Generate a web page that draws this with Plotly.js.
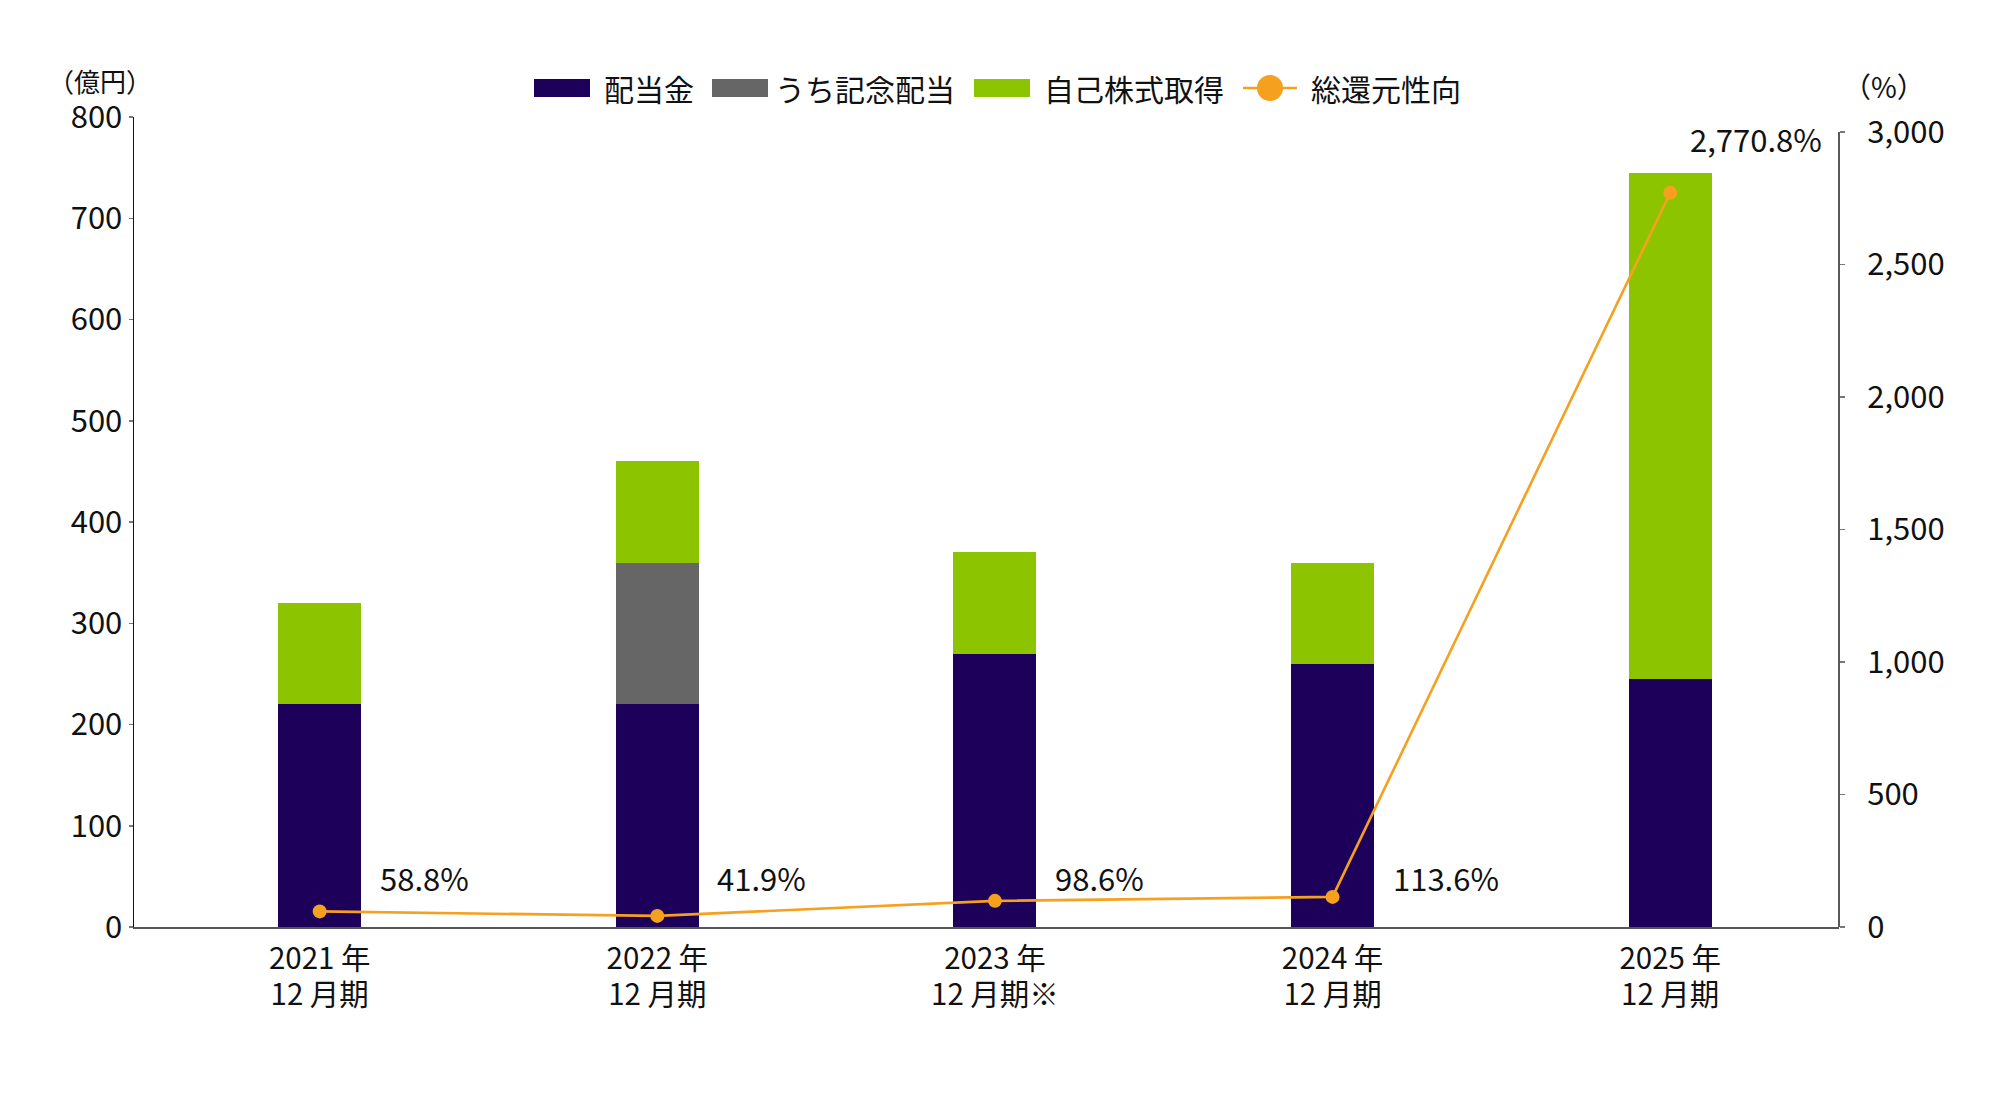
<!DOCTYPE html>
<html>
<head>
<meta charset="utf-8">
<script src="https://cdn.plot.ly/plotly-3.0.1.min.js"></script>
<style>
  html, body { margin: 0; padding: 0; background: #fff; }
  #chart { width: 2000px; height: 1100px; }
</style>
</head>
<body>
<div id="chart"></div>
<script>
// データ（億円 / %）
const periods = ['2021年12月期', '2022年12月期', '2023年12月期※', '2024年12月期', '2025年12月期'];
const periodLabels = ['2021 年<br>12 月期', '2022 年<br>12 月期', '2023 年<br>12 月期※', '2024 年<br>12 月期', '2025 年<br>12 月期'];
const dividend = [220, 220, 270, 260, 245];       // 配当金
const commemorative = [0, 140, 0, 0, 0];         // うち記念配当
const buyback = [100, 100, 100, 100, 500];       // 自己株式取得
const payoutRatio = [58.8, 41.9, 98.6, 113.6, 2770.8]; // 総還元性向

const seriesNames = ['配当金', 'うち記念配当', '自己株式取得', '総還元性向'];
const colors = {
    dividend: '#1c0059',
    commemorative: '#666666',
    buyback: '#8cc400',
    ratio: '#f6a020'
};

const FONT = '"Noto Sans CJK JP", "Noto Sans", sans-serif';

// プロット領域（ピクセル）
const W = 2000, H = 1100;
const margin = { l: 134, r: 161, t: 117, b: 173 };
const plotW = W - margin.l - margin.r;
const plotH = H - margin.t - margin.b;
const xp = px => (px - margin.l) / plotW;
const yp = py => (H - margin.b - py) / plotH;

const barBase = {
    type: 'bar',
    x: periods,
    width: 0.246,
    hoverinfo: 'skip',
    showlegend: false
};

const traces = [
    { ...barBase, name: seriesNames[0], y: dividend, marker: { color: colors.dividend } },
    { ...barBase, name: seriesNames[1], y: commemorative, marker: { color: colors.commemorative } },
    { ...barBase, name: seriesNames[2], y: buyback, marker: { color: colors.buyback } },
    {
        type: 'scatter',
        mode: 'lines+markers',
        name: seriesNames[3],
        x: periods,
        y: payoutRatio,
        yaxis: 'y2',
        line: { color: colors.ratio, width: 2.6 },
        marker: { color: colors.ratio, size: 14 },
        hoverinfo: 'skip',
        showlegend: false
    }
];

// 総還元性向のラベル
const ratioText = payoutRatio.map(v => v.toLocaleString('en-US', { minimumFractionDigits: 1 }) + '%');
const annotations = ratioText.map((t, i) => {
    const last = i === payoutRatio.length - 1;
    return {
        x: periods[i], xref: 'x',
        y: last ? 0.973 : 0.061, yref: 'paper',
        xanchor: 'left', yanchor: 'middle',
        xshift: last ? 18 : 58,
        text: t, showarrow: false,
        font: { family: FONT, size: 31, color: '#111' }
    };
});

// 単位
annotations.push({
    x: xp(100), y: yp(80), xref: 'paper', yref: 'paper',
    xanchor: 'center', yanchor: 'middle', showarrow: false,
    text: '（億円）', font: { family: FONT, size: 26, color: '#111' }
});
annotations.push({
    x: xp(1884), y: yp(86), xref: 'paper', yref: 'paper',
    xanchor: 'center', yanchor: 'middle', showarrow: false,
    text: '（%）', font: { family: FONT, size: 28, color: '#111' }
});

// 凡例（手描き）
const legendY = 88;
const swatchX = [534, 712, 974];
const swatchColors = [colors.dividend, colors.commemorative, colors.buyback];
const legendTextX = [602, 773, 1042, 1309];
const shapes = [];
swatchX.forEach((x0, i) => {
    shapes.push({
        type: 'rect', xref: 'paper', yref: 'paper',
        x0: xp(x0), x1: xp(x0 + 56), y0: yp(legendY + 9), y1: yp(legendY - 9),
        fillcolor: swatchColors[i], line: { width: 0 }
    });
});
shapes.push({
    type: 'line', xref: 'paper', yref: 'paper',
    x0: xp(1243), x1: xp(1297), y0: yp(legendY), y1: yp(legendY),
    line: { color: colors.ratio, width: 2.6 }
});
shapes.push({
    type: 'circle', xref: 'paper', yref: 'paper',
    x0: xp(1270 - 13), x1: xp(1270 + 13), y0: yp(legendY + 13), y1: yp(legendY - 13),
    fillcolor: colors.ratio, line: { width: 0 }
});
seriesNames.forEach((name, i) => {
    annotations.push({
        x: xp(legendTextX[i]), y: yp(legendY), xref: 'paper', yref: 'paper',
        xanchor: 'left', yanchor: 'middle', showarrow: false,
        text: name, font: { family: FONT, size: 30, color: '#111' }
    });
});

// 右軸の線（0〜3,000）
shapes.push({
    type: 'line', xref: 'paper', yref: 'y2',
    x0: 1, x1: 1, y0: 0, y1: 3000,
    line: { color: '#222', width: 1.5 }
});

const layout = {
    width: W,
    height: H,
    margin: margin,
    paper_bgcolor: '#fff',
    plot_bgcolor: '#fff',
    barmode: 'stack',
    showlegend: false,
    font: { family: FONT, color: '#111' },
    xaxis: {
        type: 'category',
        range: [-0.55, 4.5],
        tickmode: 'array',
        tickvals: periods,
        ticktext: periodLabels.map(t => t.split('<br>').map(s => '<span style="font-size:29.5px">' + s + '</span>').join('<br>')),
        tickfont: { family: FONT, size: 27.5, color: '#111' },
        ticks: '',
        ticklabelstandoff: 7,
        showline: true,
        linecolor: '#555',
        linewidth: 2,
        showgrid: false,
        zeroline: false,
        fixedrange: true
    },
    yaxis: {
        range: [0, 800],
        tickmode: 'linear',
        tick0: 0,
        dtick: 100,
        tickfont: { family: FONT, size: 31, color: '#111' },
        ticks: 'outside',
        ticklen: 4,
        tickcolor: '#777',
        tickwidth: 1.5,
        showline: true,
        linecolor: '#111',
        linewidth: 1.5,
        showgrid: false,
        zeroline: false,
        fixedrange: true
    },
    yaxis2: {
        overlaying: 'y',
        side: 'right',
        range: [0, 3057],
        tickmode: 'array',
        tickvals: [0, 500, 1000, 1500, 2000, 2500, 3000],
        tickformat: ',d',
        tickfont: { family: FONT, size: 31, color: '#111' },
        ticks: 'outside',
        ticklen: 5,
        tickcolor: '#777',
        tickwidth: 1.5,
        ticklabelstandoff: 16,
        showline: false,
        showgrid: false,
        zeroline: false,
        fixedrange: true
    },
    shapes: shapes,
    annotations: annotations
};

Plotly.newPlot('chart', traces, layout, { displayModeBar: false, staticPlot: true });
</script>
</body>
</html>
